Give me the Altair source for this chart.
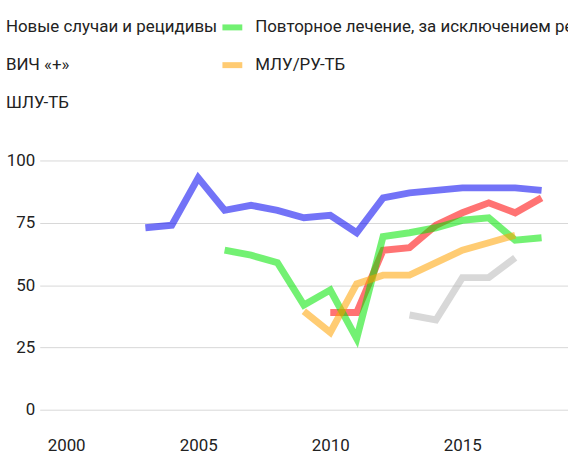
import altair as alt
import pandas as pd

series = ["Новые случаи и рецидивы",
          "ВИЧ «+»",
          "ШЛУ-ТБ",
          "Повторное лечение, за исключением рецидивов",
          "МЛУ/РУ-ТБ"]
colors = ["#0000f0", "#ff0000", "#b8b8b8", "#00e600", "#ffa200"]

new_years = list(range(2003, 2019))
new_vals = [73, 74, 93, 80, 82, 80, 77, 78, 71, 85, 87, 88, 89, 89, 89, 88]
hiv_years = list(range(2010, 2019))
hiv_vals = [39, 39, 64, 65, 74, 79, 83, 79, 85]
xdr_years = list(range(2013, 2018))
xdr_vals = [38, 36, 53, 53, 61]
re_years = list(range(2006, 2019))
re_vals = [64, 62, 59, 42, 48, 28.5, 69.5, 71, 73, 76, 77, 68, 69]
mdr_years = list(range(2009, 2018))
mdr_vals = [39.5, 31, 50.5, 54, 54, 59, 64, 67, 70]

rows = []
for name, ys, vs in zip(series,
                        [new_years, hiv_years, xdr_years, re_years, mdr_years],
                        [new_vals, hiv_vals, xdr_vals, re_vals, mdr_vals]):
    for y, v in zip(ys, vs):
        rows.append({"series": name, "year": y, "value": v})
df = pd.DataFrame(rows)

FONT = "Roboto, sans-serif"

chart = alt.Chart(df).mark_line(strokeWidth=7, opacity=0.55).encode(
    x=alt.X("year:Q", scale=alt.Scale(domain=[1999, 2019], nice=False, zero=False),
            axis=alt.Axis(values=[2000, 2005, 2010, 2015], format="d", title=None,
                          grid=False, domain=False, ticks=False, tickSize=0,
                          labelPadding=28, labelFontSize=17, labelColor="#222222",
                          labelFont=FONT)),
    y=alt.Y("value:Q", scale=alt.Scale(domain=[0, 100], nice=False),
            axis=alt.Axis(values=[0, 25, 50, 75, 100], title=None, domain=False,
                          ticks=False, tickSize=0, labelPadding=5, labelFontSize=17,
                          labelColor="#222222", labelFont=FONT, gridColor="#d8d8d8",
                          labelBaseline="middle")),
    color=alt.Color("series:N", sort=series,
                    scale=alt.Scale(domain=series, range=colors),
                    legend=alt.Legend(orient="none", legendX=-70, legendY=-147,
                                      columns=2, title=None, symbolType="stroke",
                                      symbolStrokeWidth=6, symbolSize=400,
                                      symbolOpacity=0.55, labelOffset=10,
                                      labelFontSize=17, labelFont=FONT,
                                      labelColor="#222222", labelLimit=2000,
                                      rowPadding=13, columnPadding=-7, padding=0)),
    detail="series:N",
).properties(
    width=532, height=251,
    autosize=alt.AutoSizeParams(type="none"),
    padding={"left": 40, "top": 160, "right": 0, "bottom": 44},
).configure_view(stroke=None)

chart.save("out.html", embed_options={"renderer": "svg", "actions": False})
